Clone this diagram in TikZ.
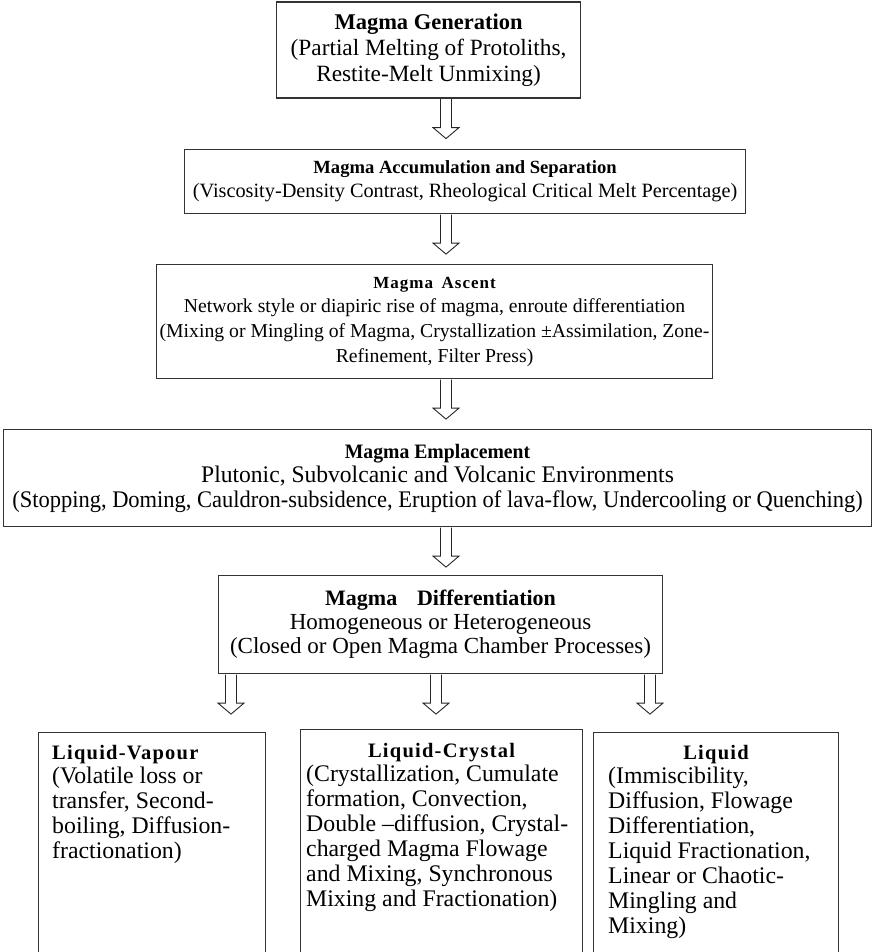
\documentclass[tikz,border=0pt]{standalone}
\usepackage{fontspec}
\setmainfont{Liberation Serif}
\usetikzlibrary{calc}
\newcommand{\fs}[2]{\fontsize{#1}{#2}\selectfont}
\newcommand{\blkarrow}[1]{\draw[blk] (#1) ++(-5.5,0.6) -- ++(0,28.4) -- ++(-7.5,0) -- ++(13,11) -- ++(13,-11) -- ++(-7.5,0) -- ++(0,-28.4);}
\begin{document}
\begin{tikzpicture}[x=1pt,y=-1pt,
  box/.style={draw=black!80, line width=1.1pt, inner sep=0pt, align=center, anchor=north west},
  blk/.style={draw=black!85, line width=0.9pt, fill=white, line join=miter},
  head/.style={inner sep=0pt, font={\fs{20.5}{24.8}\bfseries\addfontfeature{LetterSpace=6}}},
  body/.style={inner sep=0pt, align=left, anchor=north west, font={\fs{23.8}{24.9}}},
]
\useasboundingbox (0,0) rectangle (874,952);
\clip (0,0) rectangle (874,952);

% main boxes
\node[box, minimum width=304pt, minimum height=96pt, font={\fs{23.3}{26}}] (b1) at (276,1.5)
  {{\fs{22.5}{26}\bfseries Magma Generation}\\(Partial Melting of Protoliths,\\Restite-Melt Unmixing)};
\node[box, minimum width=561pt, minimum height=64pt, font={\fs{20.3}{24}}] (b2) at (184,149)
  {{\fs{18.6}{24}\bfseries Magma Accumulation and Separation}\\(Viscosity-Density Contrast, Rheological Critical Melt Percentage)};
\node[box, minimum width=556pt, minimum height=114pt, font={\fs{19.7}{24.7}}] (b3) at (156,264)
  {{\fs{17}{24.7}\bfseries\addfontfeature{LetterSpace=6}Magma\hspace{0.5em}Ascent}\\Network style or diapiric rise of magma, enroute differentiation\\(Mixing or Mingling of Magma, Crystallization ±Assimilation, Zone-\\Refinement, Filter Press)};
\node[box, minimum width=868pt, minimum height=97pt, font={\fs{23.8}{24.5}}] (b4) at (3,429)
  {{\fs{20.5}{24.5}\bfseries\scalebox{0.96}[1]{Magma Emplacement}}\\\scalebox{0.99}[1]{Plutonic, Subvolcanic and Volcanic Environments}\\\scalebox{0.945}[1]{(Stopping, Doming, Cauldron-subsidence, Eruption of lava-flow, Undercooling or Quenching)}};
\node[box, minimum width=444pt, minimum height=98pt, font={\fs{23}{24}}] (b5) at (218,575)
  {{\fs{22}{24}\bfseries Magma\hspace{0.9em}Differentiation}\\Homogeneous or Heterogeneous\\(Closed or Open Magma Chamber Processes)};

% bottom boxes
\node[box, minimum width=227pt, minimum height=240pt] (bl) at (38,732) {};
\node[box, minimum width=282pt, minimum height=243pt] (bm) at (300,729) {};
\node[box, minimum width=245pt, minimum height=240pt] (br) at (593,732) {};

\node[head, anchor=base west] (hl) at ($(bl.north west)+(14,27)$) {Liquid-Vapour};
\node[head, anchor=base] (hm) at ($(bm.north)+(0,28)$) {Liquid-Crystal};
\node[head, anchor=base] (hr) at ($(br.north)+(0,27)$) {Liquid};

\node[body] (tl) at ($(bl.north west)+(14,35)$)
  {(Volatile loss or\\transfer, Second-\\boiling, Diffusion-\\fractionation)};
\node[body] (tm) at ($(bm.north west)+(6,36)$)
  {(Crystallization, Cumulate\\formation, Convection,\\Double –diffusion, Crystal-\\charged Magma Flowage\\and Mixing, Synchronous\\Mixing and Fractionation)};
\node[body] (tr) at ($(br.north west)+(15,35)$)
  {(Immiscibility,\\Diffusion, Flowage\\Differentiation,\\Liquid Fractionation,\\Linear or Chaotic-\\Mingling and\\Mixing)};

% arrow axes
\coordinate (ax) at (446,0);
\coordinate (axl) at (231,0);
\coordinate (axm) at (436,0);
\coordinate (axr) at (650,0);

\blkarrow{b1.south -| ax}
\blkarrow{b2.south -| ax}
\blkarrow{b3.south -| ax}
\blkarrow{b4.south -| ax}
\blkarrow{b5.south -| axl}
\blkarrow{b5.south -| axm}
\blkarrow{b5.south -| axr}
\end{tikzpicture}
\end{document}
